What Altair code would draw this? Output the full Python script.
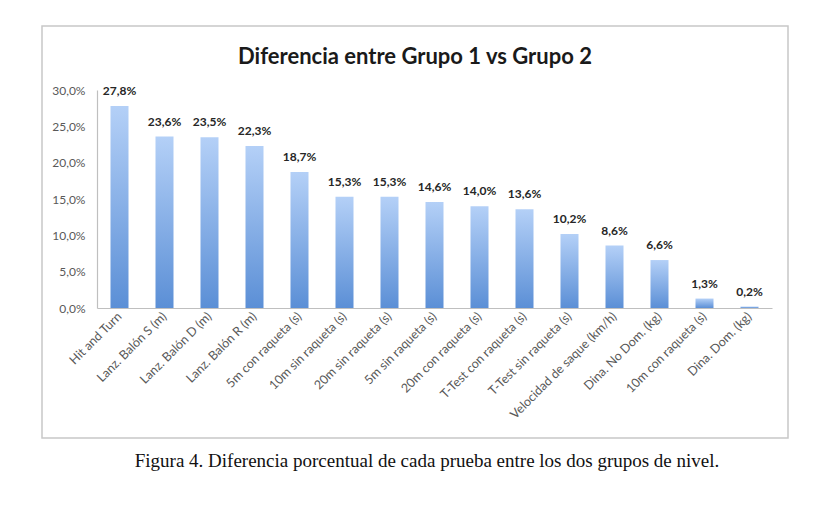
import altair as alt
import pandas as pd

categories = [
    "Hit and Turn", "Lanz. Balón S (m)", "Lanz. Balón D (m)", "Lanz. Balón R (m)",
    "5m con raqueta (s)", "10m sin raqueta (s)", "20m sin raqueta (s)", "5m sin raqueta (s)",
    "20m con raqueta (s)", "T-Test con raqueta (s)", "T-Test sin raqueta (s)",
    "Velocidad de saque (km/h)", "Dina. No Dom. (kg)", "10m con raqueta (s)", "Dina. Dom. (kg)",
]
values = [27.8, 23.6, 23.5, 22.3, 18.7, 15.3, 15.3, 14.6, 14.0, 13.6, 10.2, 8.6, 6.6, 1.3, 0.2]
y_ticks = [0, 5, 10, 15, 20, 25, 30]
title_text = "Diferencia entre Grupo 1 vs Grupo 2"
caption_text = "Figura 4. Diferencia porcentual de cada prueba entre los dos grupos de nivel."

df = pd.DataFrame({
    "cat": categories,
    "val": values,
    "label": [f"{v:.1f}".replace(".", ",") + "%" for v in values],
})

W, H = 675, 218
FONT = "Lato"

x_enc = alt.X("cat:N", sort=None, title=None,
              scale=alt.Scale(paddingInner=0.6, paddingOuter=0.3),
              axis=alt.Axis(labelAngle=-45, labelAlign="right", labelBaseline="middle",
                            labelFont=FONT, labelFontSize=12.5, labelColor="#595959",
                            labelPadding=6, ticks=False, domainColor="#bfbfbf",
                            domainWidth=1.2, labelOverlap=False, labelLimit=300))
y_enc = alt.Y("val:Q", title=None,
              scale=alt.Scale(domain=[0, 30], nice=False),
              axis=alt.Axis(values=y_ticks, grid=False, ticks=False,
                            labelExpr="replace(format(datum.value, '.1f'), '.', ',') + '%'",
                            labelFont=FONT, labelFontSize=12, labelColor="#595959",
                            labelPadding=12, domainColor="#bfbfbf", domainWidth=1.2,
                            labelOverlap=False, labelFlush=False))

base = alt.Chart(df)

bars = base.mark_bar(
    size=18,
    color=alt.Gradient(
        gradient="linear",
        stops=[alt.GradientStop(color="#b4d0f7", offset=0),
               alt.GradientStop(color="#5b8fd6", offset=1)],
        x1=0, x2=0, y1=0, y2=1,
    ),
).encode(x=x_enc, y=y_enc)

labels = base.mark_text(
    font=FONT, fontSize=12, fontWeight="bold", color="#262626",
    baseline="bottom", dy=-8,
).encode(x=x_enc, y=y_enc, text="label:N")

frame = alt.Chart(pd.DataFrame({"k": [0]})).mark_rect(
    fill=None, stroke="#c8c8c8", strokeWidth=1.5
).encode(x=alt.value(-55), x2=alt.value(691), y=alt.value(-64), y2=alt.value(348))

title = alt.Chart(pd.DataFrame({"t": [title_text]})).mark_text(
    font=FONT, fontSize=22, fontWeight="bold", color="#1a1a1a", baseline="middle"
).encode(x=alt.value(318), y=alt.value(-33), text="t:N")

caption = alt.Chart(pd.DataFrame({"t": [caption_text]})).mark_text(
    font="Liberation Serif", fontSize=19, color="#111111", baseline="middle"
).encode(x=alt.value(330), y=alt.value(371), text="t:N")

chart = alt.layer(frame, bars, labels, title, caption).properties(
    width=W, height=H,
    autosize=alt.AutoSizeParams(type="none"),
    padding={"left": 89, "top": 82, "right": 43, "bottom": 205},
).configure_view(stroke=None)

chart.save("out.html", embed_options={"renderer": "svg", "actions": False})
